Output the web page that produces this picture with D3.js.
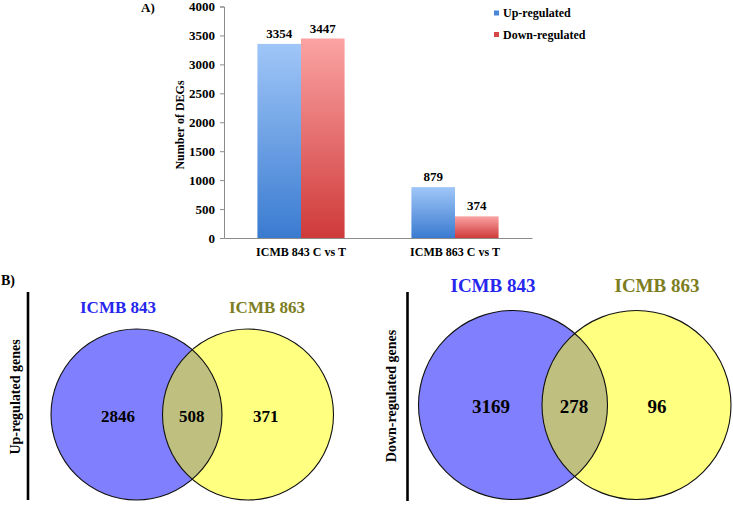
<!DOCTYPE html>
<html><head><meta charset="utf-8">
<script src="https://cdn.jsdelivr.net/npm/d3@7"></script>
<style>
html,body{margin:0;padding:0;background:#fff;}
svg{display:block;}
svg text{font-family:"Liberation Serif","Times New Roman",serif !important;font-weight:bold;}
</style></head>
<body>
<svg id="c" width="733" height="508"></svg>
<script>
// ---- Data ----
const categories = ["ICMB 843 C vs T", "ICMB 863 C vs T"];
const seriesNames = ["Up-regulated", "Down-regulated"];
const upValues = [3354, 879];
const downValues = [3447, 374];
const yTicks = [0, 500, 1000, 1500, 2000, 2500, 3000, 3500, 4000];

const vennSets = ["ICMB 843", "ICMB 863"];
const vennPanels = ["Up-regulated genes", "Down-regulated genes"];
const vennOnlyA = [2846, 3169];
const vennShared = [508, 278];
const vennOnlyB = [371, 96];

const svg = d3.select("#c");
const defs = svg.append("defs");

function grad(id, top, bottom) {
  const g = defs.append("linearGradient").attr("id", id)
    .attr("x1", 0).attr("y1", 0).attr("x2", 0).attr("y2", 1);
  g.append("stop").attr("offset", "0%").attr("stop-color", top);
  g.append("stop").attr("offset", "100%").attr("stop-color", bottom);
}
grad("gUp", "#a0c6f8", "#3a7bd0");
grad("gDown", "#fba3a3", "#cf3a3a");
const fills = ["url(#gUp)", "url(#gDown)"];
const legendFills = ["#4a86d6", "#d64848"];

// ---- Bar chart (A) ----
const x0 = d3.scaleBand().domain(categories).range([224, 532]);
const bw = x0.bandwidth();
const x1 = d3.scaleBand().domain(seriesNames).range([bw * 0.217, bw * 0.783]);
const y = d3.scaleLinear().domain([0, 4000]).range([238, 6.5]);

const rows = categories.map((c, i) => ({ cat: c, vals: [upValues[i], downValues[i]] }));

const yAxis = svg.append("g").attr("transform", "translate(224,0)")
  .call(d3.axisLeft(y).tickValues(yTicks).tickSize(4).tickPadding(5).tickFormat(d3.format("d")));
yAxis.select(".domain").attr("stroke", "#8c8c8c");
yAxis.selectAll(".tick line").attr("stroke", "#8c8c8c");
yAxis.selectAll(".tick text").attr("font-size", 13).attr("fill", "#000");

const groups = svg.append("g").selectAll("g").data(rows).join("g")
  .attr("transform", d => `translate(${x0(d.cat)},0)`);
groups.selectAll("rect").data(d => d.vals.map((v, j) => ({ s: seriesNames[j], v, j })))
  .join("rect")
  .attr("x", d => x1(d.s)).attr("width", x1.bandwidth())
  .attr("y", d => y(d.v)).attr("height", d => y(0) - y(d.v))
  .attr("fill", d => fills[d.j]);
groups.selectAll("text.val").data(d => d.vals.map((v, j) => ({ s: seriesNames[j], v, j })))
  .join("text").attr("class", "val")
  .attr("x", d => x1(d.s) + x1.bandwidth() / 2).attr("y", d => y(d.v) - 6)
  .attr("text-anchor", "middle").attr("font-size", 13).text(d => d.v);

const xAxis = svg.append("g").attr("transform", "translate(0,238)")
  .call(d3.axisBottom(x0).tickSize(0).tickPadding(9));
xAxis.select(".domain").attr("stroke", "#8c8c8c");
xAxis.selectAll(".tick text").attr("font-size", 12).attr("fill", "#000");

svg.append("text").attr("transform", "translate(184,125) rotate(-90)")
  .attr("text-anchor", "middle").attr("font-size", 12).text("Number  of DEGs");

svg.append("text").attr("x", 141).attr("y", 12).attr("font-size", 13).text("A)");

const leg = svg.append("g");
seriesNames.forEach((s, i) => {
  const ly = 13 + i * 21.5;
  leg.append("rect").attr("x", 494).attr("y", ly - 2.5).attr("width", 5).attr("height", 5).attr("fill", legendFills[i]);
  leg.append("text").attr("x", 503).attr("y", ly + 4).attr("font-size", 12).text(s);
});

// ---- Venn diagrams (B) ----
svg.append("text").attr("x", 1).attr("y", 285).attr("font-size", 14).text("B)");

const panels = [
  { cx: [136.5, 248], cy: 414.5, r: 85.5, lineX: 28, lineY: [292, 500], labX: 15, labY: 397,
    titleY: 313, titleX: [118, 267], titleSize: 17, numSize: 17, numX: [118, 191.7, 265.7], numY: 416 },
  { cx: [513, 636.5], cy: 405, r: 94.5, lineX: 407.5, lineY: [292, 501], labX: 391, labY: 396,
    titleY: 292, titleX: [493, 657], titleSize: 19, numSize: 19, numX: [491, 574, 657], numY: 406 }
];
const setColors = ["#8080ff", "#ffff80"];
const titleColors = ["#2626ee", "#7d7d22"];

panels.forEach((p, k) => {
  const g = svg.append("g");
  g.append("line").attr("x1", p.lineX).attr("x2", p.lineX).attr("y1", p.lineY[0]).attr("y2", p.lineY[1])
    .attr("stroke", "#000").attr("stroke-width", 2.6);
  g.append("text").attr("transform", `translate(${p.labX},${p.labY}) rotate(-90)`)
    .attr("text-anchor", "middle").attr("dominant-baseline", "central").attr("font-size", 14).text(vennPanels[k]);

  const circles = vennSets.map((s, i) => ({ s, cx: p.cx[i], i }));
  g.selectAll("circle.set").data(circles).join("circle").attr("class", "set")
    .attr("cx", d => d.cx).attr("cy", p.cy).attr("r", p.r)
    .attr("fill", d => setColors[d.i]);
  const clipId = "clip" + k;
  defs.append("clipPath").attr("id", clipId).append("circle")
    .attr("cx", p.cx[0]).attr("cy", p.cy).attr("r", p.r);
  g.append("circle").attr("cx", p.cx[1]).attr("cy", p.cy).attr("r", p.r)
    .attr("fill", "#bfbf80").attr("clip-path", `url(#${clipId})`);
  g.selectAll("circle.outline").data(circles).join("circle").attr("class", "outline")
    .attr("cx", d => d.cx).attr("cy", p.cy).attr("r", p.r)
    .attr("fill", "none").attr("stroke", "#111").attr("stroke-width", 1.1);

  g.selectAll("text.title").data(circles).join("text").attr("class", "title")
    .attr("x", (d, i) => p.titleX[i]).attr("y", p.titleY).attr("text-anchor", "middle")
    .attr("font-size", p.titleSize).attr("fill", d => titleColors[d.i]).text(d => d.s);

  const nums = [vennOnlyA[k], vennShared[k], vennOnlyB[k]];
  g.selectAll("text.num").data(nums).join("text").attr("class", "num")
    .attr("x", (d, i) => p.numX[i]).attr("y", p.numY).attr("text-anchor", "middle")
    .attr("dominant-baseline", "central").attr("font-size", p.numSize).text(d => d);
});
</script>
</body></html>
